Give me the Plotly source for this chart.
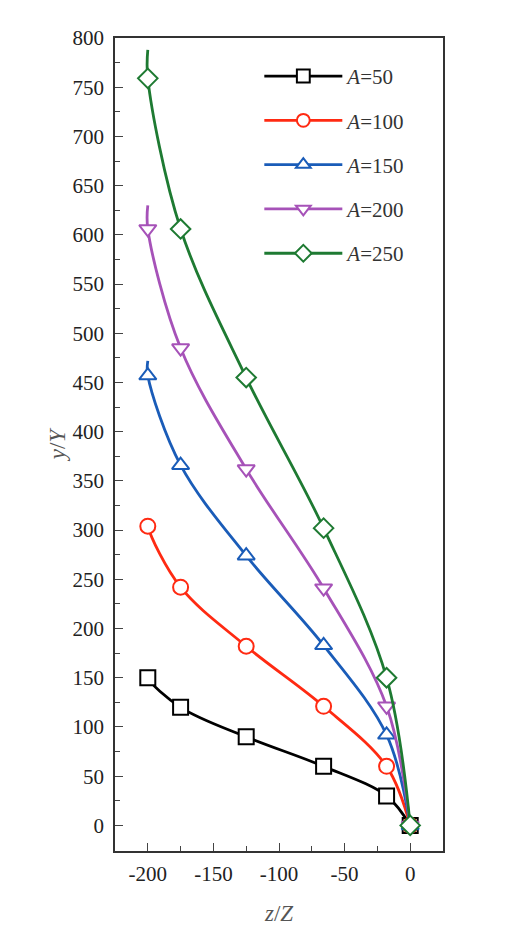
import plotly.graph_objects as go

# z/Z positions of the markers (same for every curve)
z = [-200, -175, -125, -66, -18, 0]

# y/Y values at the markers, one list per A
y_50 = [150, 120, 90, 60, 30, 0]
y_100 = [304, 242, 182, 121, 60, 0]
y_150 = [457, 366, 274, 183, 92, 0]
y_200 = [606, 485, 362, 241, 121, 0]
y_250 = [759, 606, 455, 302, 150, 0]

# top end of each fitted curve (line runs a bit past the last marker)
y_top = [155, 312, 472, 630, 788]

labels = ["<i>A</i>=50", "<i>A</i>=100", "<i>A</i>=150", "<i>A</i>=200", "<i>A</i>=250"]
colors = ["#000000", "#ff2a12", "#1a5cb8", "#a652b8", "#1e7a32"]
symbols = ["square", "circle", "triangle-up", "triangle-down", "diamond"]

x_ticks = [-200, -150, -100, -50, 0]
x_ticktext = ["-200", "-150", "-100", "-50", "0"]

fig = go.Figure()
for i, ys in enumerate([y_50, y_100, y_150, y_200, y_250]):
    xs = [z[0]] + z
    yy = [y_top[i]] + ys
    sizes = [0] + [15] * len(z)
    fig.add_trace(go.Scatter(
        x=xs, y=yy, mode="lines+markers", name=labels[i],
        legendgroup=str(i),
        line=dict(color=colors[i], width=2.8, shape="spline", smoothing=1),
        marker=dict(symbol=symbols[i], size=sizes, color="white", opacity=1,
                    line=dict(color=colors[i], width=2)),
    ))

font = "Liberation Serif, Times New Roman, serif"
fig.update_layout(
    width=520, height=946,
    margin=dict(l=107, r=85, t=30, b=103),
    paper_bgcolor="white", plot_bgcolor="white",
    font=dict(family=font, size=21, color="#222"),
    legend=dict(x=0.44, y=0.978, xanchor="left", yanchor="top",
                font=dict(size=21, color="#333"), tracegroupgap=14,
                itemwidth=78,
                bgcolor="rgba(0,0,0,0)", itemsizing="trace"),
    showlegend=True,
)
fig.update_xaxes(
    range=[-225, 25], tickvals=x_ticks, ticktext=x_ticktext,
    ticks="inside", ticklen=8, ticklabelstandoff=3,
    minor=dict(ticks="inside", ticklen=5, tickvals=[-225, -175, -125, -75, -25, 25]),
    showline=True, linecolor="#333", linewidth=1.5, mirror=True,
    showgrid=False, zeroline=False,
    title=dict(text="<i>z</i>/<i>Z</i>", font=dict(size=23, color="#555"), standoff=20),
)
fig.update_yaxes(
    range=[-26, 800], tick0=0, dtick=50, ticks="inside", ticklen=8,
    ticklabelstandoff=5,
    minor=dict(ticks="inside", ticklen=5, dtick=25, tick0=0),
    showline=True, linecolor="#333", linewidth=1.5, mirror=True,
    showgrid=False, zeroline=False,
    title=dict(text="<i>y</i>/<i>Y</i>", font=dict(size=23, color="#555"), standoff=0),
)

fig.write_html("out.html")
